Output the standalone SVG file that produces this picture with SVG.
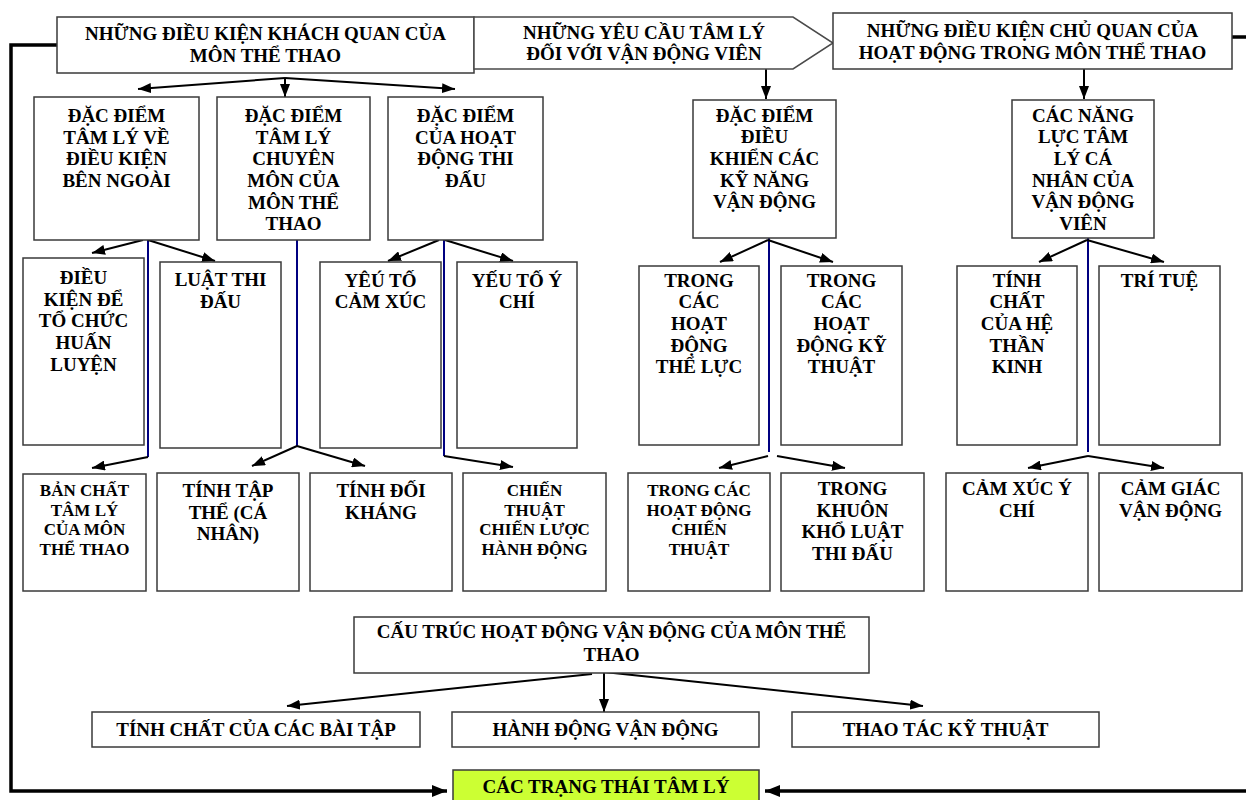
<svg xmlns="http://www.w3.org/2000/svg" width="1246" height="800" viewBox="0 0 1246 800">
<defs>
<style>
.box{fill:#fff;stroke:#3a3a3a;stroke-width:1.5}
.t{font-family:"Liberation Serif","Times New Roman",serif;font-weight:bold;font-size:19px;fill:#000;text-anchor:middle}
.s{font-size:17px}
.c{fill:none;stroke:#000;stroke-width:2}
.b{fill:none;stroke:#000080;stroke-width:2}
.k{fill:none;stroke:#000;stroke-width:3.5}
</style>
<marker id="ah" markerUnits="userSpaceOnUse" markerWidth="13" markerHeight="10" refX="13" refY="5" orient="auto"><path d="M0,0 L13,5 L0,10 z" fill="#000"/></marker>
<marker id="ahk" markerUnits="userSpaceOnUse" markerWidth="15" markerHeight="12" refX="15" refY="6" orient="auto"><path d="M0,0 L15,6 L0,12 z" fill="#000"/></marker>
</defs>
<rect width="1246" height="800" fill="#fff"/>

<g id="connectors">
<path class="k" d="M57,45 H11 V791 H447" marker-end="url(#ahk)"/>
<path class="k" d="M1232,37 H1252 V791 H765" marker-end="url(#ahk)"/>
<path class="c" d="M285,78 L138,89" marker-end="url(#ah)"/>
<path class="c" d="M285,78 L285,97" marker-end="url(#ah)"/>
<path class="c" d="M285,78 L455,89" marker-end="url(#ah)"/>
<path class="c" d="M766,69 L766,99" marker-end="url(#ah)"/>
<path class="c" d="M1084,69 L1084,99" marker-end="url(#ah)"/>
<path class="b" d="M148,240 V457"/>
<path class="c" d="M143,240 L92,253" marker-end="url(#ah)"/>
<path class="c" d="M148,240 L215,261" marker-end="url(#ah)"/>
<path class="c" d="M148,457 L92,468" marker-end="url(#ah)"/>
<path class="b" d="M297,240 V446"/>
<path class="c" d="M297,446 L252,466" marker-end="url(#ah)"/>
<path class="c" d="M297,446 L365,466" marker-end="url(#ah)"/>
<path class="b" d="M444,240 V456"/>
<path class="c" d="M439,240 L388,261" marker-end="url(#ah)"/>
<path class="c" d="M445,240 L513,261" marker-end="url(#ah)"/>
<path class="c" d="M444,456 L513,467" marker-end="url(#ah)"/>
<path class="b" d="M769,238 V452"/>
<path class="c" d="M768,240 L720,262" marker-end="url(#ah)"/>
<path class="c" d="M768,240 L833,262" marker-end="url(#ah)"/>
<path class="c" d="M768,456 L719,468" marker-end="url(#ah)"/>
<path class="c" d="M777,456 L845,468" marker-end="url(#ah)"/>
<path class="b" d="M1088,238 V452"/>
<path class="c" d="M1087,240 L1039,262" marker-end="url(#ah)"/>
<path class="c" d="M1087,240 L1164,262" marker-end="url(#ah)"/>
<path class="c" d="M1088,456 L1028,468" marker-end="url(#ah)"/>
<path class="c" d="M1088,456 L1164,468" marker-end="url(#ah)"/>
<path class="c" d="M592,674 L287,706" marker-end="url(#ah)"/>
<path class="c" d="M604,672 L604,712" marker-end="url(#ah)"/>
<path class="c" d="M604,672 L923,706" marker-end="url(#ah)"/>
</g>

<g id="n-khachquan"><rect class="box" x="57" y="17" width="417" height="56"/>
<text class="t" x="265.5" y="40">NHỮNG ĐIỀU KIỆN KHÁCH QUAN CỦA</text><text class="t" x="265.5" y="62">MÔN THỂ THAO</text></g>
<g id="n-yeucau"><polygon points="474,17 793,17 833,43 793,69 474,69" fill="#fff" stroke="#4a4a4a" stroke-width="1.5"/>
<text class="t" x="644" y="38.5">NHỮNG YÊU CẦU TÂM LÝ</text><text class="t" x="644" y="60">ĐỐI VỚI VẬN ĐỘNG VIÊN</text></g>
<g id="n-chuquan"><rect class="box" x="833" y="13" width="399" height="56"/>
<text class="t" x="1032.5" y="37">NHỮNG ĐIỀU KIỆN CHỦ QUAN CỦA</text><text class="t" x="1032.5" y="58.5">HOẠT ĐỘNG TRONG MÔN THỂ THAO</text></g>

<g id="n-dieukienngoai"><rect class="box" x="34" y="97" width="165" height="143"/>
<text class="t" x="116.5" y="122">ĐẶC ĐIỂM</text><text class="t" x="116.5" y="143.7">TÂM LÝ VỀ</text><text class="t" x="116.5" y="165.3">ĐIỀU KIỆN</text><text class="t" x="116.5" y="187">BÊN NGOÀI</text></g>
<g id="n-chuyenmon"><rect class="box" x="217" y="97" width="153" height="143"/>
<text class="t" x="293.5" y="122">ĐẶC ĐIỂM</text><text class="t" x="293.5" y="143.7">TÂM LÝ</text><text class="t" x="293.5" y="165.3">CHUYÊN</text><text class="t" x="293.5" y="187">MÔN CỦA</text><text class="t" x="293.5" y="208.7">MÔN THỂ</text><text class="t" x="293.5" y="230.3">THAO</text></g>
<g id="n-thidau"><rect class="box" x="388" y="97" width="155" height="143"/>
<text class="t" x="465.5" y="122">ĐẶC ĐIỂM</text><text class="t" x="465.5" y="143.7">CỦA HOẠT</text><text class="t" x="465.5" y="165.3">ĐỘNG THI</text><text class="t" x="465.5" y="187">ĐẤU</text></g>
<g id="n-dieukhien"><rect class="box" x="693" y="100" width="143" height="138"/>
<text class="t" x="764.5" y="121.7">ĐẶC ĐIỂM</text><text class="t" x="764.5" y="143.3">ĐIỀU</text><text class="t" x="764.5" y="165">KHIỂN CÁC</text><text class="t" x="764.5" y="186.7">KỸ NĂNG</text><text class="t" x="764.5" y="208.3">VẬN ĐỘNG</text></g>
<g id="n-nangluc"><rect class="box" x="1012" y="100" width="142" height="138"/>
<text class="t" x="1083" y="121.7">CÁC NĂNG</text><text class="t" x="1083" y="143.3">LỰC TÂM</text><text class="t" x="1083" y="165">LÝ CÁ</text><text class="t" x="1083" y="186.7">NHÂN CỦA</text><text class="t" x="1083" y="208.3">VẬN ĐỘNG</text><text class="t" x="1083" y="230">VIÊN</text></g>

<g id="n-tochuc"><rect class="box" x="23" y="258" width="121" height="187"/>
<text class="t" x="83.5" y="284">ĐIỀU</text><text class="t" x="83.5" y="305.7">KIỆN ĐỂ</text><text class="t" x="83.5" y="327.3">TỔ CHỨC</text><text class="t" x="83.5" y="349">HUẤN</text><text class="t" x="83.5" y="370.7">LUYỆN</text></g>
<g id="n-luat"><rect class="box" x="160" y="262" width="121" height="186"/>
<text class="t" x="220.5" y="286">LUẬT THI</text><text class="t" x="220.5" y="307.7">ĐẤU</text></g>
<g id="n-camxuc"><rect class="box" x="320" y="262" width="121" height="186"/>
<text class="t" x="380.5" y="286.5">YÊÚ TỐ</text><text class="t" x="380.5" y="308.2">CẢM XÚC</text></g>
<g id="n-ychi"><rect class="box" x="457" y="262" width="120" height="186"/>
<text class="t" x="517" y="286.5">YẾU TỐ Ý</text><text class="t" x="517" y="308.2">CHÍ</text></g>
<g id="n-theluc"><rect class="box" x="639" y="266" width="120" height="179"/>
<text class="t" x="699" y="286.7">TRONG</text><text class="t" x="699" y="308.3">CÁC</text><text class="t" x="699" y="330">HOẠT</text><text class="t" x="699" y="351.7">ĐỘNG</text><text class="t" x="699" y="373.3">THỂ LỰC</text></g>
<g id="n-kythuat"><rect class="box" x="781" y="266" width="121" height="179"/>
<text class="t" x="841.5" y="286.7">TRONG</text><text class="t" x="841.5" y="308.3">CÁC</text><text class="t" x="841.5" y="330">HOẠT</text><text class="t" x="841.5" y="351.7">ĐỘNG KỸ</text><text class="t" x="841.5" y="373.3">THUẬT</text></g>
<g id="n-thankinh"><rect class="box" x="957" y="266" width="120" height="179"/>
<text class="t" x="1017" y="286.7">TÍNH</text><text class="t" x="1017" y="308.3">CHẤT</text><text class="t" x="1017" y="330">CỦA HỆ</text><text class="t" x="1017" y="351.7">THẦN</text><text class="t" x="1017" y="373.3">KINH</text></g>
<g id="n-tritue"><rect class="box" x="1099" y="266" width="121" height="179"/>
<text class="t" x="1159.5" y="286.7">TRÍ TUỆ</text></g>

<g id="n-banchat"><rect class="box" x="23" y="474" width="123" height="117"/>
<text class="t s" x="84.5" y="496">BẢN CHẤT</text><text class="t s" x="84.5" y="515.7">TÂM LÝ</text><text class="t s" x="84.5" y="535.3">CỦA MÔN</text><text class="t s" x="84.5" y="555">THỂ THAO</text></g>
<g id="n-taptthe"><rect class="box" x="157" y="473" width="142" height="118"/>
<text class="t" x="228" y="497">TÍNH TẬP</text><text class="t" x="228" y="518.7">THỂ (CÁ</text><text class="t" x="228" y="540.3">NHÂN)</text></g>
<g id="n-doikhang"><rect class="box" x="310" y="473" width="142" height="118"/>
<text class="t" x="381" y="497">TÍNH ĐỐI</text><text class="t" x="381" y="518.7">KHÁNG</text></g>
<g id="n-chienthuat"><rect class="box" x="463" y="473" width="143" height="118"/>
<text class="t s" x="534.5" y="496">CHIẾN</text><text class="t s" x="534.5" y="515.7">THUẬT</text><text class="t s" x="534.5" y="535.3">CHIẾN LƯỢC</text><text class="t s" x="534.5" y="555">HÀNH ĐỘNG</text></g>
<g id="n-hdchienthuat"><rect class="box" x="628" y="473" width="142" height="118"/>
<text class="t s" x="699" y="496">TRONG CÁC</text><text class="t s" x="699" y="515.7">HOẠT ĐỘNG</text><text class="t s" x="699" y="535.3">CHIẾN</text><text class="t s" x="699" y="555">THUẬT</text></g>
<g id="n-khuonkho"><rect class="box" x="781" y="473" width="143" height="118"/>
<text class="t" x="852.5" y="495">TRONG</text><text class="t" x="852.5" y="516.7">KHUÔN</text><text class="t" x="852.5" y="538.3">KHỔ LUẬT</text><text class="t" x="852.5" y="560">THI ĐẤU</text></g>
<g id="n-camxucychi"><rect class="box" x="946" y="473" width="142" height="118"/>
<text class="t" x="1017" y="495">CẢM XÚC Ý</text><text class="t" x="1017" y="516.7">CHÍ</text></g>
<g id="n-camgiac"><rect class="box" x="1099" y="473" width="143" height="118"/>
<text class="t" x="1170.5" y="495">CẢM GIÁC</text><text class="t" x="1170.5" y="516.7">VẬN ĐỘNG</text></g>

<g id="n-cautruc"><rect class="box" x="354" y="617" width="515" height="56"/>
<text class="t" x="611.5" y="638">CẤU TRÚC HOẠT ĐỘNG VẬN ĐỘNG CỦA MÔN THỂ</text><text class="t" x="611.5" y="661">THAO</text></g>
<g id="n-baitap"><rect class="box" x="92" y="712" width="328" height="35"/>
<text class="t" x="256" y="736">TÍNH CHẤT CỦA CÁC BÀI TẬP</text></g>
<g id="n-hanhdong"><rect class="box" x="452" y="712" width="307" height="35"/>
<text class="t" x="605.5" y="736">HÀNH ĐỘNG VẬN ĐỘNG</text></g>
<g id="n-thaotac"><rect class="box" x="792" y="712" width="307" height="35"/>
<text class="t" x="945.5" y="736">THAO TÁC KỸ THUẬT</text></g>
<g id="n-trangthai"><rect x="453" y="770" width="306" height="40" fill="#ccff33" stroke="#3a3a3a" stroke-width="1.5"/>
<text class="t" x="606" y="793">CÁC TRẠNG THÁI TÂM LÝ</text></g>
</svg>
